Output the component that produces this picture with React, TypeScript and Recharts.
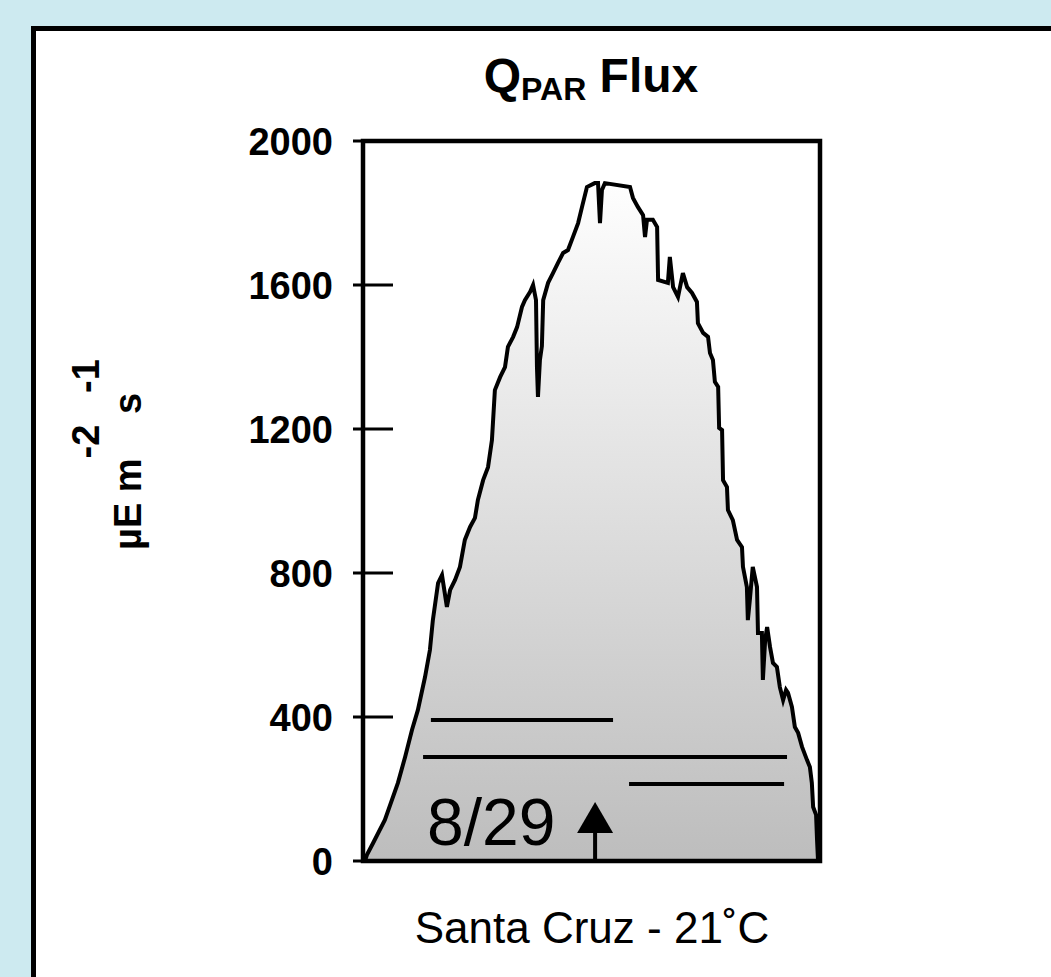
import { Area, ComposedChart, ReferenceArea, ReferenceDot, ReferenceLine, XAxis, YAxis } from "recharts";

const FONT = '"Liberation Sans", Arial, sans-serif';

// PAR flux through the day of 8/29: hour of day, µE m-2 s-1
const HOURS = [
  6.06, 6.12, 6.31, 6.67, 7.07, 7.29, 7.5, 7.68, 7.9, 8.05, 8.14, 8.3, 8.42, 8.57, 8.67, 8.82, 8.97, 9.12,
  9.28, 9.43, 9.52, 9.68, 9.83, 9.95, 10.04, 10.2, 10.35, 10.44, 10.6, 10.72, 10.87, 10.96, 11.12, 11.21,
  11.3, 11.33, 11.36, 11.42, 11.48, 11.52, 11.67, 11.82, 11.97, 12.13, 12.28, 12.43, 12.59, 12.71, 12.86,
  13.1, 13.2, 13.26, 13.32, 13.41, 14.18, 14.27, 14.42, 14.58, 14.64, 14.7, 14.88, 15.01, 15.04, 15.34,
  15.4, 15.5, 15.65, 15.8, 15.93, 16.08, 16.23, 16.26, 16.42, 16.57, 16.63, 16.72, 16.78, 16.88, 16.91,
  17.0, 17.03, 17.15, 17.18, 17.33, 17.46, 17.61, 17.64, 17.76, 17.79, 17.85, 17.94, 18.07, 18.1, 18.22,
  18.25, 18.32, 18.38, 18.47, 18.56, 18.68, 18.77, 18.87, 18.96, 19.02, 19.14, 19.23, 19.33, 19.45, 19.6,
  19.69, 19.75, 19.79, 19.88, 19.91, 19.94,
];
const FLUX = [
  0, 17, 50, 114, 217, 289, 364, 419, 511, 586, 669, 772, 794, 706, 753, 781, 817, 892,
  928, 953, 1003, 1058, 1094, 1169, 1308, 1344, 1372, 1428, 1456, 1483, 1539, 1558, 1581, 1600,
  1558, 1370, 1289, 1392, 1430, 1558, 1606, 1633, 1661, 1689, 1697, 1733, 1772, 1817, 1872,
  1883, 1883, 1772, 1864, 1883, 1872, 1842, 1817, 1794, 1733, 1781, 1781, 1761, 1614, 1606,
  1678, 1594, 1567, 1633, 1594, 1578, 1553, 1494, 1467, 1456, 1411, 1392, 1331, 1317, 1203,
  1197, 1058, 1039, 975, 947, 892, 872, 817, 761, 669, 725, 817, 761, 633, 633,
  503, 614, 650, 594, 550, 539, 483, 447, 475, 467, 428, 372, 356, 317, 281,
  261, 217, 150, 128, 58, 0,
];

const Y_TICKS = [0, 400, 800, 1200, 1600, 2000];

// the three horizontal bars across the curve
const BAR_START = [8.08, 7.84, 14.15];
const BAR_END = [13.66, 18.99, 18.9];
const BAR_LEVEL = [392, 289, 214];

const ARROW_HOUR = 13.11;
const ARROW_TIP = 164;
const ARROW_SHAFT_TOP = 80;
const DATE_LABEL = "8/29";
const DATE_HOUR = 7.96;
const DATE_LEVEL = 44;

const data = HOURS.map((hour, i) => ({ hour, flux: FLUX[i] }));

function FluxTick({ x, y, payload }: any) {
  // tickSize 10 + tickMargin 20 => axis line sits 30px right of x
  const axisX = x + 30;
  return (
    <g>
      <line x1={axisX - 10} x2={axisX + 30} y1={y} y2={y} stroke="#000" strokeWidth={3} />
      <text x={x} y={y} dy="0.36em" textAnchor="end" fontFamily={FONT} fontSize={38} fontWeight="bold" fill="#000">
        {payload.value}
      </text>
    </g>
  );
}

export default function App() {
  return (
    <div style={{ position: "absolute", left: 0, top: 0, width: 1051, height: 977, overflow: "hidden", background: "#cdeaf0" }}>
      <div
        style={{
          position: "absolute",
          left: 31,
          top: 26,
          width: 1100,
          height: 1100,
          boxSizing: "border-box",
          border: "5px solid #000",
          background: "#fff",
        }}
      />
      <div style={{ position: "absolute", left: 0, top: 0 }}>
        <ComposedChart width={1051} height={977} data={data} margin={{ top: 141, right: 231, bottom: 116, left: 303 }}>
          <defs>
            <linearGradient id="parFill" x1="0" y1="0" x2="0" y2="1">
              <stop offset="0%" stopColor="#fefefe" />
              <stop offset="100%" stopColor="#bdbdbd" />
            </linearGradient>
          </defs>
          <XAxis dataKey="hour" type="number" domain={[6, 20]} hide allowDataOverflow />
          <YAxis
            type="number"
            domain={[0, 2000]}
            ticks={Y_TICKS}
            interval={0}
            width={60}
            axisLine={false}
            tickLine={false}
            tickSize={10}
            tickMargin={20}
            tick={<FluxTick />}
          />
          <Area
            dataKey="flux"
            type="linear"
            stroke="#000"
            strokeWidth={4}
            fill="url(#parFill)"
            fillOpacity={1}
            dot={false}
            activeDot={false}
            isAnimationActive={false}
          />
          {BAR_LEVEL.map((level, i) => (
            <ReferenceLine
              key={i}
              segment={[
                { x: BAR_START[i], y: level },
                { x: BAR_END[i], y: level },
              ]}
              stroke="#000"
              strokeWidth={4}
            />
          ))}
          <ReferenceLine
            segment={[
              { x: ARROW_HOUR, y: 0 },
              { x: ARROW_HOUR, y: ARROW_SHAFT_TOP },
            ]}
            stroke="#000"
            strokeWidth={4}
          />
          <ReferenceDot
            x={ARROW_HOUR}
            y={ARROW_TIP}
            shape={(p: any) => (
              <path d={`M${p.cx},${p.cy} L${p.cx + 18},${p.cy + 31} L${p.cx - 18},${p.cy + 31} Z`} fill="#000" />
            )}
          />
          <ReferenceDot
            x={DATE_HOUR}
            y={DATE_LEVEL}
            shape={(p: any) => (
              <text x={p.cx} y={p.cy} fontFamily={FONT} fontSize={66} fill="#000">
                {DATE_LABEL}
              </text>
            )}
          />
          <ReferenceArea x1={6} x2={20} y1={0} y2={2000} fill="none" stroke="#000" strokeWidth={4.5} ifOverflow="visible" />
        </ComposedChart>
      </div>
      <svg width={1051} height={977} style={{ position: "absolute", left: 0, top: 0, pointerEvents: "none" }}>
        <text x={591} y={92} textAnchor="middle" fontFamily={FONT} fontSize={48} fontWeight="bold" fill="#000">
          Q
          <tspan fontSize={32} dy={8}>
            PAR
          </tspan>
          <tspan dy={-8}> Flux</tspan>
        </text>
        <text transform="translate(141,550) rotate(-90)" fontFamily={FONT} fontSize={38} fontWeight="bold" fill="#000">
          µE m<tspan dy={-42}>-2</tspan>
          <tspan dy={42}> s</tspan>
          <tspan dy={-42}>-1</tspan>
        </text>
        <text x={592} y={943} textAnchor="middle" fontFamily={FONT} fontSize={44} fill="#000">
          Santa Cruz - 21˚C
        </text>
      </svg>
    </div>
  );
}
